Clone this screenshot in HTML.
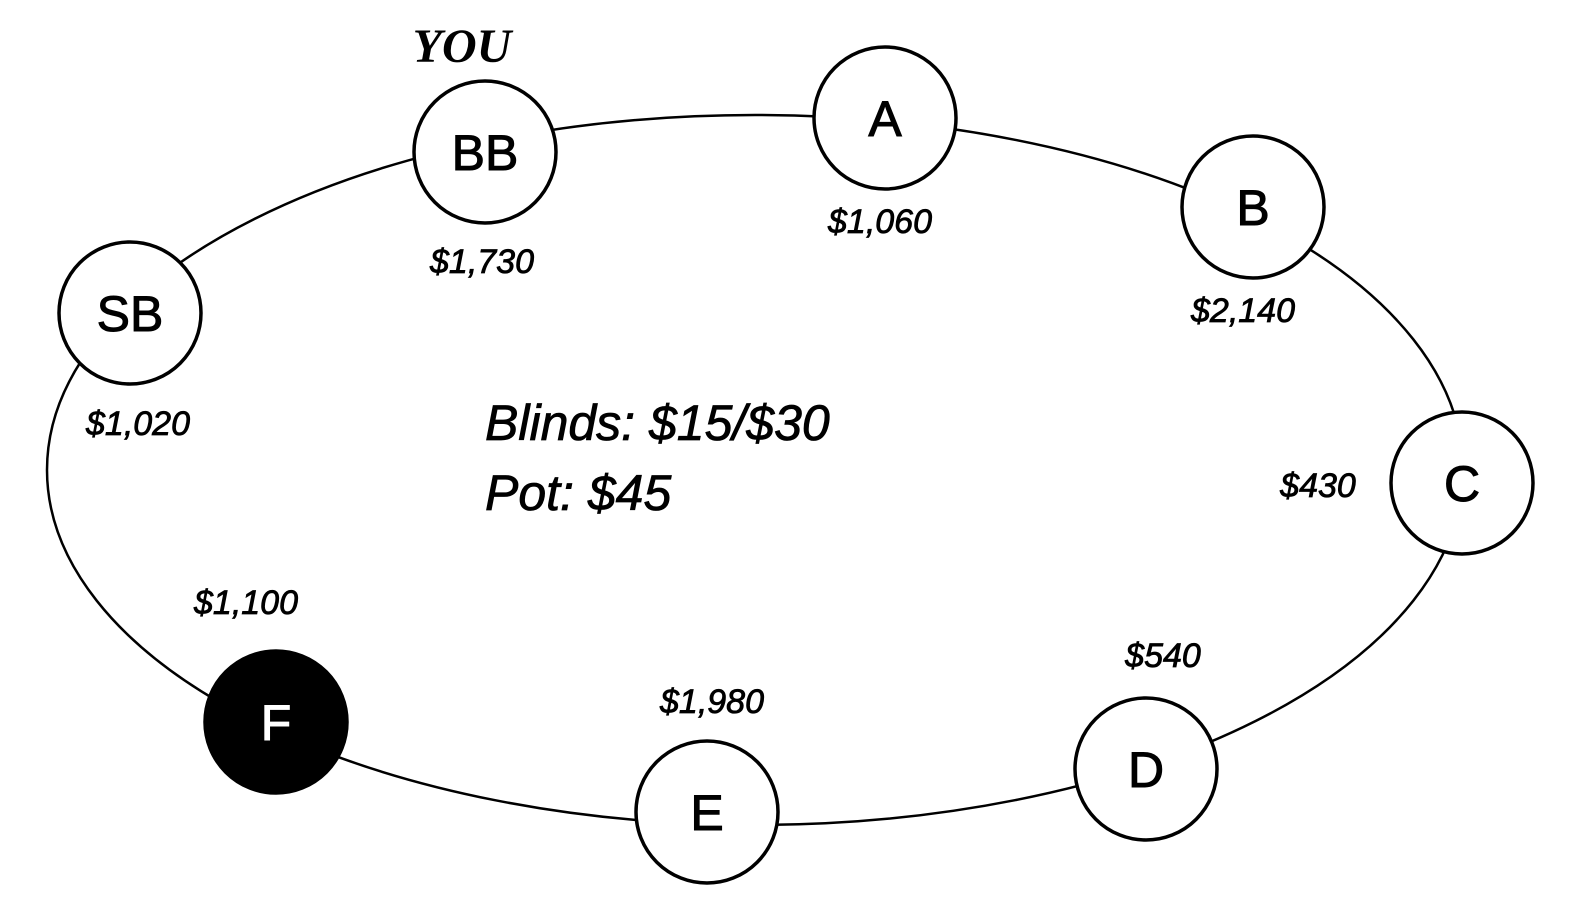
<!DOCTYPE html>
<html><head><style>html,body{margin:0;padding:0;background:#fff}</style></head>
<body>
<svg width="1585" height="913" viewBox="0 0 1585 913" xmlns="http://www.w3.org/2000/svg">
<ellipse cx="755" cy="470" rx="708" ry="355" fill="none" stroke="#000" stroke-width="2.5"/>
<g stroke="#000" stroke-width="3.5" fill="#fff">
<circle cx="485" cy="152" r="71"/>
<circle cx="885" cy="118" r="71"/>
<circle cx="1253" cy="207" r="71"/>
<circle cx="130" cy="313" r="71"/>
<circle cx="1462" cy="483" r="71"/>
<circle cx="1146" cy="769" r="71"/>
<circle cx="707" cy="812" r="71"/>
<circle cx="276" cy="722" r="71" fill="#000"/>
</g>
<g font-family="Liberation Sans, sans-serif" font-size="50" text-anchor="middle" stroke="#000" stroke-width="1">
<text x="485" y="170">BB</text>
<text x="885" y="136">A</text>
<text x="1253" y="225">B</text>
<text x="130" y="331">SB</text>
<text x="1462" y="501">C</text>
<text x="1146" y="787">D</text>
<text x="707" y="830">E</text>
<text x="276" y="740" fill="#fff" stroke="#fff">F</text>
</g>
<g font-family="Liberation Sans, sans-serif" font-size="34" font-style="italic" text-anchor="middle" stroke="#000" stroke-width="0.8">
<text x="482" y="273">$1,730</text>
<text x="880" y="233">$1,060</text>
<text x="1243" y="322">$2,140</text>
<text x="138" y="435">$1,020</text>
<text x="1318" y="497">$430</text>
<text x="1163" y="667">$540</text>
<text x="712" y="713">$1,980</text>
<text x="246" y="614">$1,100</text>
</g>
<text x="462" y="62" font-family="Liberation Serif, serif" font-weight="bold" font-style="italic" font-size="48" text-anchor="middle">YOU</text>
<g font-family="Liberation Sans, sans-serif" font-size="50" font-style="italic" stroke="#000" stroke-width="0.8">
<text x="485" y="440">Blinds: $15/$30</text>
<text x="485" y="510">Pot: $45</text>
</g>
</svg>
</body></html>
